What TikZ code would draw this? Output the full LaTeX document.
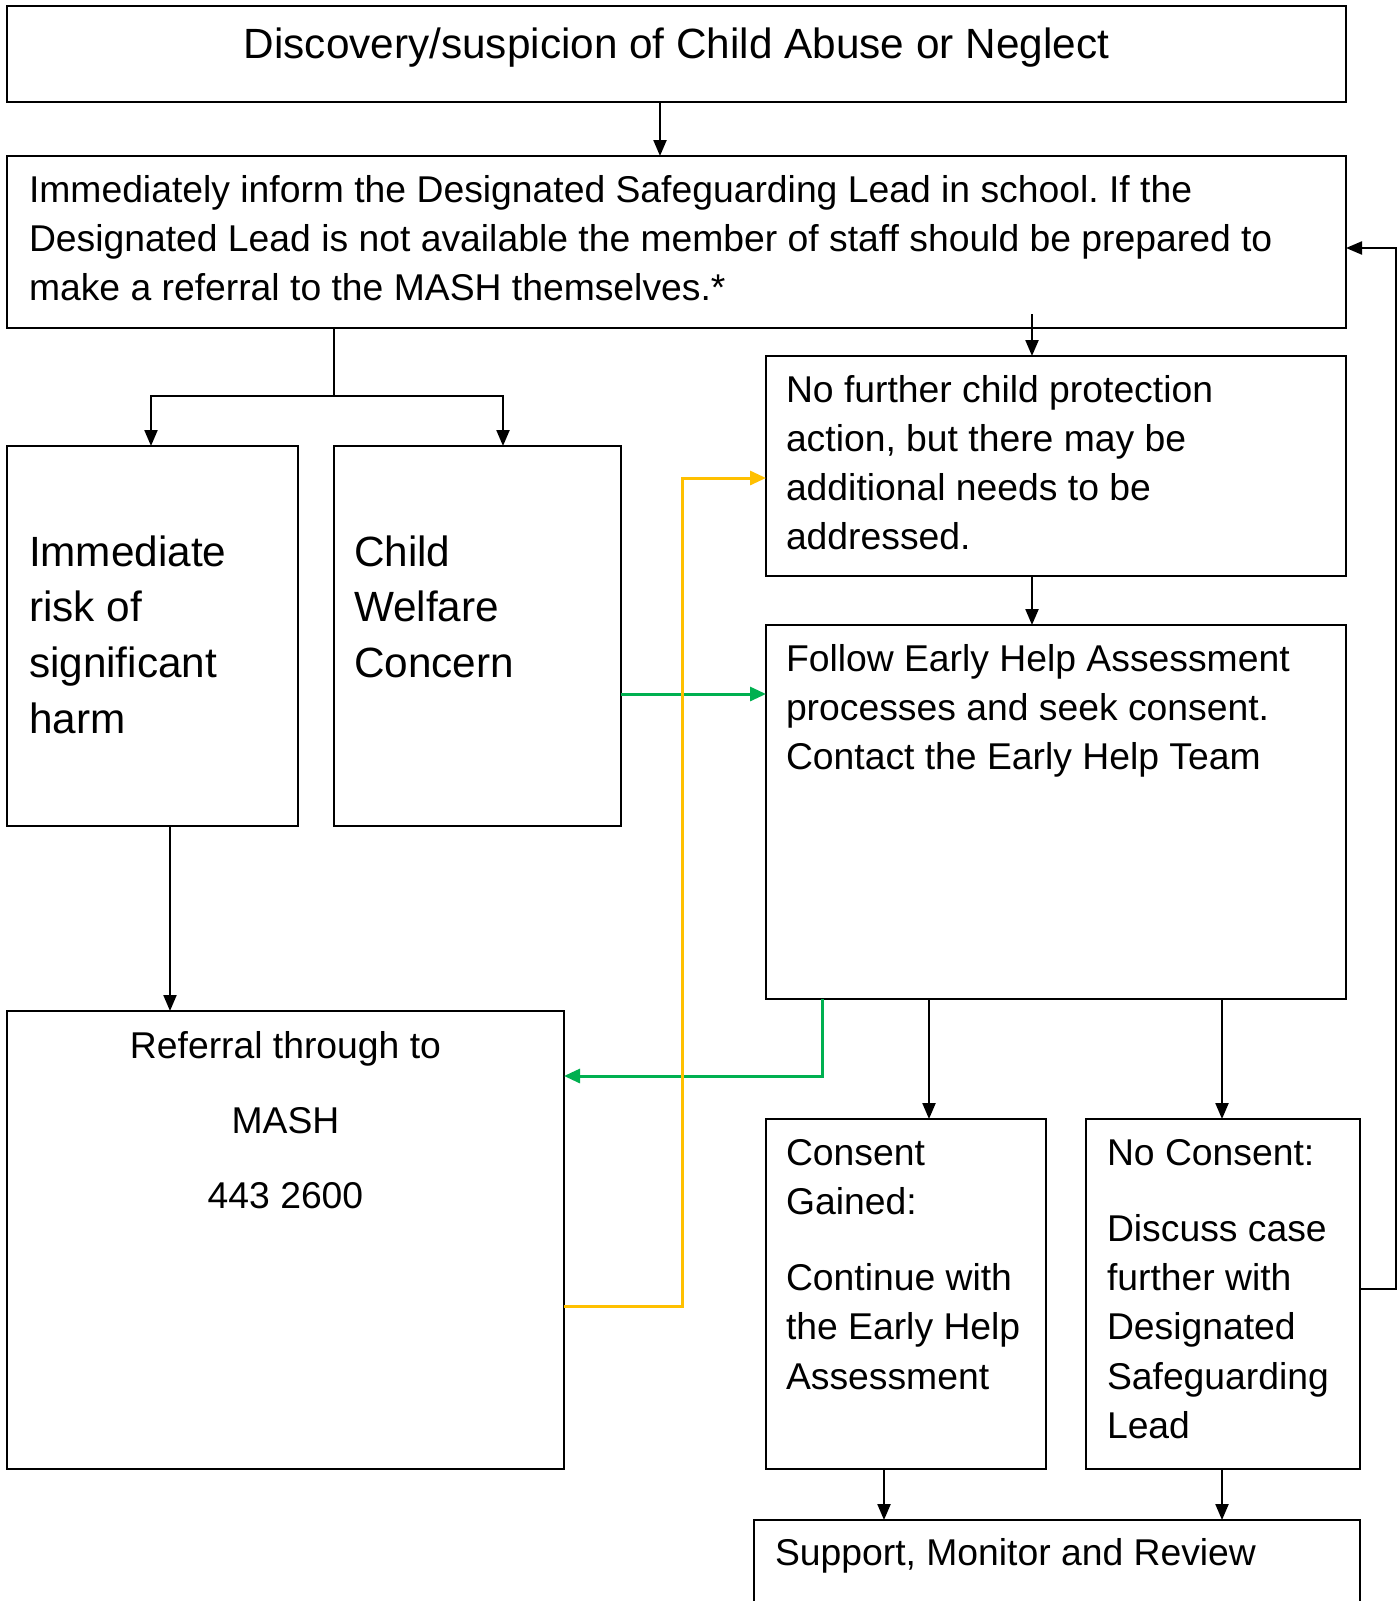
\documentclass[tikz,border=0pt]{standalone}
\usepackage{fontspec}
\setmainfont{Liberation Sans}
\usetikzlibrary{arrows.meta,calc}
\definecolor{mygreen}{HTML}{00B050}
\definecolor{myyellow}{HTML}{FFC000}
\frenchspacing
\begin{document}
\begin{tikzpicture}[x=1pt,y=-1pt,
  box/.style={draw, line width=2.2pt, inner sep=0pt, outer sep=0pt, anchor=north west},
  txt/.style={inner sep=0pt, outer sep=0pt, anchor=base west, align=left, font=\fontsize{37.3}{49.3}\selectfont\frenchspacing},
  bigtxt/.style={txt, font=\fontsize{42.3}{55.8}\selectfont\frenchspacing},
  conn/.style={line width=2.2pt, -{Triangle[length=16pt,width=13pt]}},
  cconn/.style={line width=3pt, -{Triangle[length=16pt,width=14pt]}},
  plain/.style={line width=2.2pt},
  ]
\useasboundingbox (0,0) rectangle (1400,1601);
\clip (0,0) rectangle (1400,1601);
\fill[white] (0,0) rectangle (1400,1601);

% boxes
\node[box, minimum width=1339, minimum height=96]  (b1)  at (7,6) {};
\node[box, minimum width=1339, minimum height=172] (b2)  at (7,156) {};
\node[box, minimum width=291,  minimum height=380] (b3)  at (7,446) {};
\node[box, minimum width=287,  minimum height=380] (b4)  at (334,446) {};
\node[box, minimum width=580,  minimum height=220] (b5)  at (766,356) {};
\node[box, minimum width=580,  minimum height=374] (b6)  at (766,625) {};
\node[box, minimum width=557,  minimum height=458] (b7)  at (7,1011) {};
\node[box, minimum width=280,  minimum height=350] (b8)  at (766,1119) {};
\node[box, minimum width=274,  minimum height=350] (b9)  at (1086,1119) {};
\node[box, minimum width=606,  minimum height=200] (b10) at (754,1520) {};

% texts (positions are the baseline of the last line)
\node[bigtxt, anchor=base] (t1) at (676.5,58) {Discovery/suspicion of Child Abuse or Neglect};
\node[txt] (t2) at (29,300.6) {Immediately inform the Designated Safeguarding Lead in school. If the\\Designated Lead is not available the member of staff should be prepared to\\make a referral to the MASH themselves.*};
\node[bigtxt] (t3) at (29,733.4) {Immediate\\risk of\\significant\\harm};
\node[bigtxt] (t4) at (354,677.6) {Child\\Welfare\\Concern};
\node[txt] (t5) at (786,549.9) {No further child protection\\action, but there may be\\additional needs to be\\addressed.};
\node[txt] (t6) at (786,769.6) {Follow Early Help Assessment\\processes and seek consent.\\Contact the Early Help Team};
\node[txt, align=center, anchor=base] (t7) at (285.5,1208.6) {Referral through to\\[26pt]MASH\\[26pt]443 2600};
\node[txt] (t8) at (786,1389.2) {Consent\\Gained:\\[27pt]Continue with\\the Early Help\\Assessment};
\node[txt] (t9) at (1107,1438.5) {No Consent:\\[27pt]Discuss case\\further with\\Designated\\Safeguarding\\Lead};
\node[txt] (t10) at (775,1565) {Support, Monitor and Review};

% helper coordinates
\coordinate (j) at (334,396);
\coordinate (g1) at (0,694);
\coordinate (g2) at (822,1076);
\coordinate (y1) at (682,1306);
\coordinate (y2) at (682,478);
\coordinate (c5) at (1032,314);
\coordinate (c8) at (929,0);
\coordinate (c9) at (1222,0);
\coordinate (c10) at (884,0);
\coordinate (r1) at (1396,1289);
\coordinate (r2) at (1396,248);

% connectors
\draw[conn] ([xshift=-16.5pt]b1.south) -- ([xshift=-16.5pt]b2.north);
\draw[plain] (j |- b2.south) -- (j);
\draw[conn] (j) -| ([xshift=-1.5pt]b3.north);
\draw[conn] (j) -| ([xshift=25.5pt]b4.north);
\draw[conn] ([xshift=17.5pt]b3.south) -- ([xshift=17.5pt]b7.north -| b3.south);
\draw[conn] (c5) -- (b5.north -| c5);
\draw[conn] (b5.south -| c5) -- (b6.north -| c5);
\draw[cconn, mygreen] (b4.east |- g1) -- (b6.west |- g1);
\draw[cconn, mygreen] (b6.south -| g2) |- (b7.east |- g2);
\draw[cconn, myyellow] (b7.east |- y1) -- (y1) -- (y2) -- (b5.west |- y2);
\draw[conn] (b6.south -| c8) -- (b8.north -| c8);
\draw[conn] (b6.south -| c9) -- (b9.north -| c9);
\draw[conn] (b9.east |- r1) -- (r1) -- (r2) -- (b2.east |- r2);
\draw[conn] (b8.south -| c10) -- (b10.north -| c10);
\draw[conn] (b9.south -| c9) -- (b10.north -| c9);
\end{tikzpicture}
\end{document}
